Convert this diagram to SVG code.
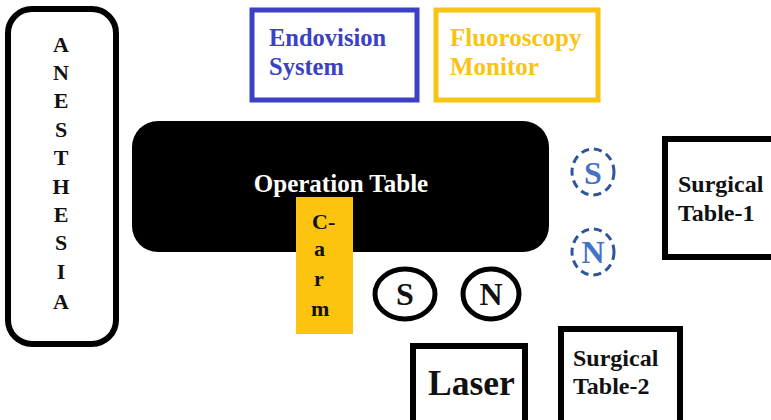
<svg xmlns="http://www.w3.org/2000/svg" width="771" height="420" viewBox="0 0 771 420" font-family="'Liberation Serif', 'DejaVu Serif', 'Noto Serif', serif" font-weight="bold">
<style>
.bx{fill:#fff;stroke:#000;stroke-width:6}
.lt{font-size:22px;fill:#111;text-anchor:middle}
.lb{font-size:24px;fill:#111}
.dc{fill:#fff;stroke:#2f5597;stroke-width:3;stroke-dasharray:8 5}
.dt{font-size:32px;fill:#4472c4;text-anchor:middle}
.sc{fill:#fff;stroke:#000;stroke-width:5}
.st{font-size:32px;fill:#111;text-anchor:middle}
</style>
<rect width="771" height="420" fill="#fff"/>
<g id="anesthesia">
<rect x="8" y="9" width="108" height="335" rx="24" class="bx" stroke-width="5"/>
<text class="lt" x="61" y="52">A</text>
<text class="lt" x="61" y="80">N</text>
<text class="lt" x="61" y="108">E</text>
<text class="lt" x="61" y="137">S</text>
<text class="lt" x="61" y="165">T</text>
<text class="lt" x="61" y="194">H</text>
<text class="lt" x="61" y="222">E</text>
<text class="lt" x="61" y="250">S</text>
<text class="lt" x="61" y="279">I</text>
<text class="lt" x="61" y="309">A</text>
</g>
<g id="endovision">
<rect x="252" y="10" width="165" height="90" fill="#fff" stroke="#3b40c4" stroke-width="5"/>
<text x="269" y="46" font-size="24.5" fill="#3b40c4">Endovision</text>
<text x="269" y="75" font-size="24.5" fill="#3b40c4">System</text>
</g>
<g id="fluoroscopy">
<rect x="436" y="10" width="162" height="90" fill="#fff" stroke="#f8c413" stroke-width="5"/>
<text x="450" y="46" font-size="25" fill="#f8c413">Fluoroscopy</text>
<text x="450" y="75" font-size="25" fill="#f8c413">Monitor</text>
</g>
<g id="operation-table">
<rect x="132" y="121" width="417" height="131" rx="26" fill="#000"/>
<text x="341" y="192" font-size="25" fill="#fff" text-anchor="middle">Operation Table</text>
</g>
<g id="c-arm">
<rect x="296" y="197" width="57" height="137" fill="#fcc30f"/>
<text x="312" y="229" font-size="22" fill="#111">C-</text>
<text x="314" y="256" font-size="22" fill="#111">a</text>
<text x="314" y="286" font-size="22" fill="#111">r</text>
<text x="311" y="316" font-size="22" fill="#111">m</text>
</g>
<g id="s-circle">
<ellipse cx="405" cy="294" rx="30" ry="25" class="sc"/>
<text class="st" x="405" y="305">S</text>
</g>
<g id="n-circle">
<ellipse cx="491" cy="294" rx="28" ry="25" class="sc"/>
<text class="st" x="491" y="305">N</text>
</g>
<g id="s-dashed">
<ellipse cx="593" cy="172" rx="21" ry="23" class="dc"/>
<text class="dt" x="593" y="184">S</text>
</g>
<g id="n-dashed">
<ellipse cx="593" cy="252" rx="21" ry="23" class="dc"/>
<text class="dt" x="593" y="263">N</text>
</g>
<g id="surgical-table-1">
<rect x="665" y="139" width="120" height="118" class="bx"/>
<text class="lb" x="678" y="192">Surgical</text>
<text class="lb" x="678" y="221">Table-1</text>
</g>
<g id="laser">
<rect x="413" y="346" width="112" height="90" class="bx"/>
<text x="428" y="395" font-size="35.5" fill="#111">Laser</text>
</g>
<g id="surgical-table-2">
<rect x="561" y="329" width="119" height="110" class="bx"/>
<text class="lb" x="573" y="366">Surgical</text>
<text class="lb" x="573" y="394">Table-2</text>
</g>
<g id="connectors"></g>
</svg>
